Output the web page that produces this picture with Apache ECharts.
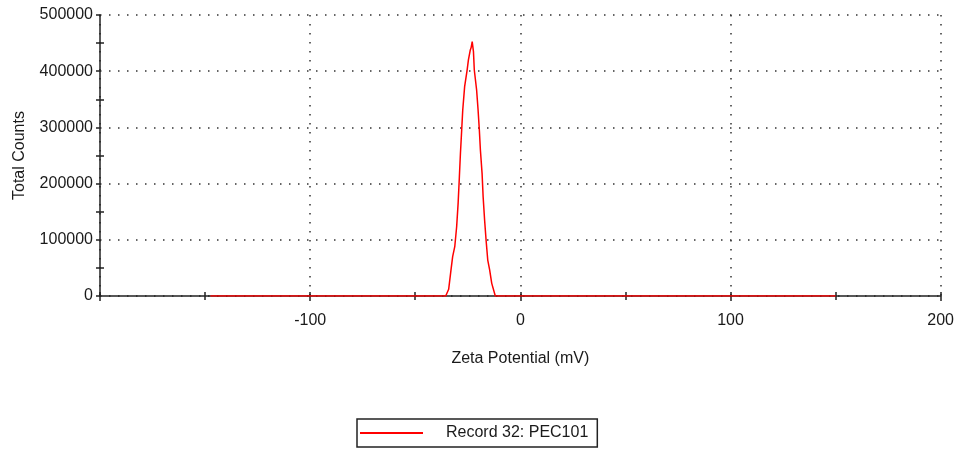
<!DOCTYPE html>
<html>
<head>
<meta charset="utf-8">
<script src="https://cdn.jsdelivr.net/npm/echarts@6/dist/echarts.min.js"></script>
<style>
html,body{margin:0;padding:0;background:#fff;}
#chart{width:957px;height:450px;}
</style>
</head>
<body>
<div id="chart"></div>
<script>
// Zeta potential (mV)
var zeta = [-147.5, -35.5, -35.3, -34.1, -32.9, -32.2, -31.2, -30.3, -29.6, -29.0, -28.5, -27.9, -27.4, -26.5, -25.3, -24.7, -23.8, -23.4, -22.9, -22.3, -21.9, -20.8, -20.1, -19.5, -19.0, -18.2, -17.7, -17.0, -16.3, -15.5, -14.6, -13.6, -11.9, 150];
// Total counts
var counts = [0, 0, 2000, 11900, 49300, 70000, 87700, 123300, 164800, 212200, 253700, 295300, 331000, 372500, 402200, 420000, 437800, 442000, 452600, 434800, 402200, 366600, 331000, 295300, 259700, 218200, 176700, 135200, 99600, 64000, 46300, 22500, 0, 0];
var seriesName = 'Record 32: PEC101';
var xTitle = 'Zeta Potential (mV)';
var yTitle = 'Total Counts';

var data = zeta.map(function (x, i) { return [x, counts[i]]; });
var font = 'Liberation Sans, Arial, sans-serif';
var txt = '#1a1a1a';
var dotted = {color: '#333', width: 1.5, type: [1.5, 7.5]};

var chart = echarts.init(document.getElementById('chart'), null, {renderer: 'canvas'});
chart.setOption({
  animation: false,
  backgroundColor: '#fff',
  grid: {left: 100, right: 15, top: 15, bottom: 154, containLabel: false},
  xAxis: [{
    type: 'value', min: -200, max: 200, interval: 100, position: 'bottom',
    name: xTitle, nameLocation: 'middle', nameGap: 55,
    nameTextStyle: {fontFamily: font, fontSize: 16, color: txt},
    axisLine: {show: true, onZero: false, lineStyle: {color: '#222', width: 1.5}},
    axisTick: {show: true, inside: false, length: 5, lineStyle: {color: '#222', width: 1.5}},
    minorTick: {show: true, splitNumber: 2, length: 4, lineStyle: {color: '#222', width: 1.5}},
    axisLabel: {fontFamily: font, fontSize: 16, color: txt, margin: 17,
      formatter: function (v) { return v === -200 ? '' : String(v); }},
    splitLine: {show: true, lineStyle: dotted}
  }, {
    type: 'value', min: -200, max: 200, interval: 100, position: 'bottom',
    axisLine: {show: false, onZero: false},
    axisTick: {show: true, inside: true, length: 4, lineStyle: {color: '#222', width: 1.5}},
    minorTick: {show: true, splitNumber: 2, length: 4, lineStyle: {color: '#222', width: 1.5}},
    axisLabel: {show: false},
    splitLine: {show: false}
  }],
  yAxis: [{
    type: 'value', min: 0, max: 500000, interval: 100000, position: 'left',
    name: yTitle, nameLocation: 'middle', nameGap: 72, nameRotate: 90,
    nameTextStyle: {fontFamily: font, fontSize: 16, color: txt},
    axisLine: {show: true, onZero: false, lineStyle: {color: '#222', width: 1.5}},
    axisTick: {show: true, inside: false, length: 4, lineStyle: {color: '#222', width: 1.5}},
    minorTick: {show: true, splitNumber: 2, length: 4, lineStyle: {color: '#222', width: 1.5}},
    axisLabel: {fontFamily: font, fontSize: 16, color: txt, margin: 7,
      formatter: function (v) { return String(v); }},
    splitLine: {show: true, lineStyle: dotted}
  }, {
    type: 'value', min: 0, max: 500000, interval: 100000, position: 'left',
    axisLine: {show: false, onZero: false},
    axisTick: {show: false, inside: true},
    minorTick: {show: true, splitNumber: 2, length: 4, lineStyle: {color: '#222', width: 1.5}},
    axisLabel: {show: false},
    splitLine: {show: false}
  }],
  legend: {
    left: 357, top: 419,
    padding: [6, 9, 6, 3],
    borderColor: '#222', borderWidth: 1.5, borderRadius: 0,
    itemWidth: 63, itemHeight: 2, icon: 'rect',
    textStyle: {fontFamily: font, fontSize: 16, color: txt, padding: [0, 0, 0, 18]},
    data: [{name: seriesName, itemStyle: {color: '#ff0000'}}]
  },
  series: [{
    name: seriesName, type: 'line', xAxisIndex: 0, yAxisIndex: 0,
    data: data, showSymbol: false, symbol: 'none',
    lineStyle: {color: '#ff0000', width: 1.5},
    itemStyle: {color: '#ff0000'}
  }]
});
</script>
</body>
</html>
